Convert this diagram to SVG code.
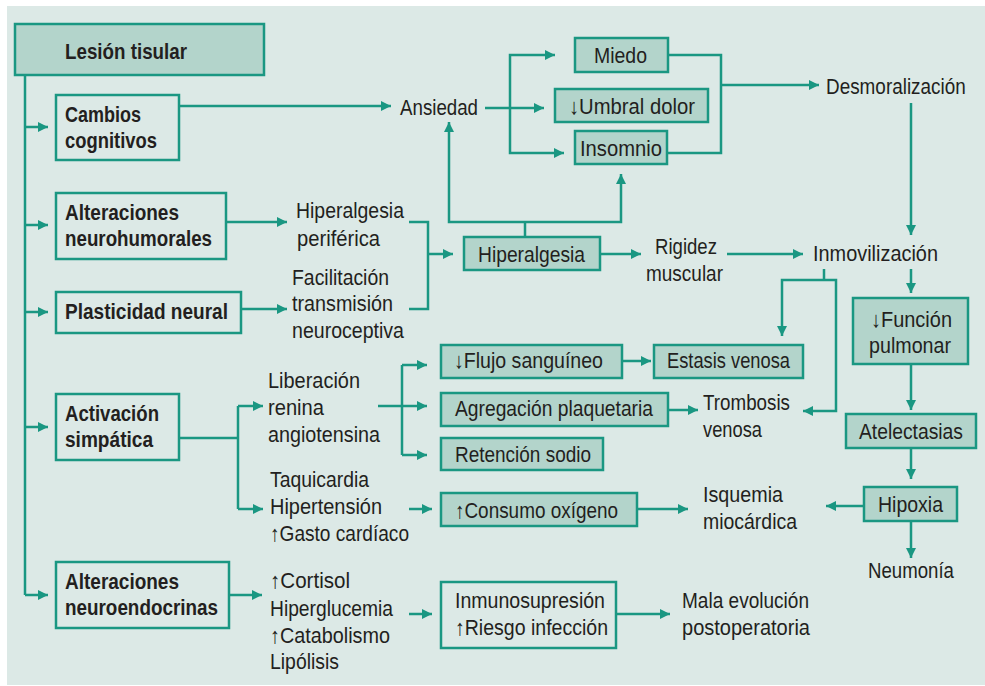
<svg xmlns="http://www.w3.org/2000/svg" width="985" height="686" viewBox="0 0 985 686">
<defs>
<marker id="ah" markerUnits="userSpaceOnUse" markerWidth="12" markerHeight="12" refX="10" refY="5" orient="auto">
<path d="M0,0 L10,5 L0,10 z" fill="#1a9782"/>
</marker>
<style>
.bg{fill:#dce9e6}
.bx{fill:#b3d4cb;stroke:#1a9782;stroke-width:2.5}
.bo{fill:#dce9e6;stroke:#1a9782;stroke-width:2.5}
.c path{fill:none;stroke:#1a9782;stroke-width:2.5}
.a{marker-end:url(#ah)}
text{font-family:"Liberation Sans","DejaVu Sans",sans-serif;font-size:22px;fill:#231f20}
.b{font-weight:bold}
</style>
</defs>
<rect x="0" y="0" width="985" height="686" fill="#ffffff"/>
<rect class="bg" x="7" y="6" width="978" height="679"/>

<g class="c" id="connectors">
<path d="M25,75 V595"/>
<path class="a" d="M25,127 H48"/>
<path class="a" d="M25,225 H48"/>
<path class="a" d="M25,312 H48"/>
<path class="a" d="M25,427 H48"/>
<path class="a" d="M25,595 H48"/>
<path class="a" d="M179,106 H391"/>
<path class="a" d="M226,222 H287"/>
<path class="a" d="M241,309 H287"/>
<path d="M409,222 H428 V309 H409"/>
<path class="a" d="M428,254 H453"/>
<path class="a" d="M600,254 H641"/>
<path d="M525,237 V222"/>
<path class="a" d="M525,222 H449 V122"/>
<path class="a" d="M525,222 H621 V174"/>
<path class="a" d="M485,108 H544"/>
<path class="a" d="M510,108 V55 H555"/>
<path class="a" d="M510,108 V153 H564"/>
<path d="M668,55 H721 V153 H667"/>
<path class="a" d="M721,85 H819"/>
<path class="a" d="M911,103 V235"/>
<path class="a" d="M727,254 H803"/>
<path class="a" d="M911,269 V293"/>
<path d="M824,269 V280"/>
<path class="a" d="M824,280 H782 V336"/>
<path class="a" d="M824,280 H836 V411 H803"/>
<path class="a" d="M911,364 V410"/>
<path class="a" d="M911,448 V479"/>
<path class="a" d="M911,521 V558"/>
<path class="a" d="M864,506 H826"/>
<path class="a" d="M622,361 H651"/>
<path class="a" d="M668,410 H698"/>
<path class="a" d="M378,406 H427"/>
<path d="M402,365 V455"/>
<path class="a" d="M402,365 H427"/>
<path class="a" d="M402,455 H427"/>
<path d="M179,438 H238"/>
<path d="M238,406 V509"/>
<path class="a" d="M238,406 H263"/>
<path class="a" d="M238,509 H263"/>
<path class="a" d="M409,509 H432"/>
<path class="a" d="M637,509 H688"/>
<path class="a" d="M229,595 H262"/>
<path class="a" d="M409,614 H432"/>
<path class="a" d="M616,614 H670"/>
</g>

<g id="lesion"><rect class="bx" x="15" y="24" width="249" height="51"/><text class="b" x="65" y="59" textLength="122" lengthAdjust="spacingAndGlyphs">Lesión tisular</text></g>
<g id="cambios"><rect class="bo" x="56" y="95" width="123" height="65"/><text class="b" x="65" y="122" textLength="76" lengthAdjust="spacingAndGlyphs">Cambios</text><text class="b" x="65" y="148" textLength="92" lengthAdjust="spacingAndGlyphs">cognitivos</text></g>
<g id="neurohumorales"><rect class="bo" x="56" y="193" width="170" height="66"/><text class="b" x="65" y="220" textLength="114" lengthAdjust="spacingAndGlyphs">Alteraciones</text><text class="b" x="65" y="246" textLength="147" lengthAdjust="spacingAndGlyphs">neurohumorales</text></g>
<g id="plasticidad"><rect class="bo" x="56" y="292" width="185" height="41"/><text class="b" x="65" y="319" textLength="163" lengthAdjust="spacingAndGlyphs">Plasticidad neural</text></g>
<g id="activacion"><rect class="bo" x="56" y="394" width="123" height="66"/><text class="b" x="65" y="421" textLength="94" lengthAdjust="spacingAndGlyphs">Activación</text><text class="b" x="65" y="447" textLength="88" lengthAdjust="spacingAndGlyphs">simpática</text></g>
<g id="neuroendocrinas"><rect class="bo" x="56" y="562" width="173" height="66"/><text class="b" x="65" y="589" textLength="114" lengthAdjust="spacingAndGlyphs">Alteraciones</text><text class="b" x="65" y="615" textLength="153" lengthAdjust="spacingAndGlyphs">neuroendocrinas</text></g>

<g id="ansiedad"><text x="400" y="115" textLength="78" lengthAdjust="spacingAndGlyphs">Ansiedad</text></g>
<g id="miedo"><rect class="bx" x="575" y="38" width="93" height="34"/><text x="594" y="63" textLength="53" lengthAdjust="spacingAndGlyphs">Miedo</text></g>
<g id="umbral"><rect class="bx" x="555" y="89" width="153" height="33"/><text x="569" y="114" textLength="126" lengthAdjust="spacingAndGlyphs">↓Umbral dolor</text></g>
<g id="insomnio"><rect class="bx" x="575" y="131" width="92" height="33"/><text x="580" y="156" textLength="82" lengthAdjust="spacingAndGlyphs">Insomnio</text></g>
<g id="desmoralizacion"><text transform="translate(826,94) scale(0.86,1)" x="0" y="0">Desmoralización</text></g>

<g id="hiperalgesia-periferica"><text x="296" y="218" textLength="108" lengthAdjust="spacingAndGlyphs">Hiperalgesia</text><text x="297" y="246" textLength="83" lengthAdjust="spacingAndGlyphs">periférica</text></g>
<g id="facilitacion"><text x="292" y="285" textLength="97" lengthAdjust="spacingAndGlyphs">Facilitación</text><text x="292" y="311" textLength="101" lengthAdjust="spacingAndGlyphs">transmisión</text><text x="292" y="338" textLength="112" lengthAdjust="spacingAndGlyphs">neuroceptiva</text></g>
<g id="hiperalgesia"><rect class="bx" x="464" y="237" width="136" height="33"/><text x="478" y="262" textLength="107" lengthAdjust="spacingAndGlyphs">Hiperalgesia</text></g>
<g id="rigidez"><text x="655" y="254" textLength="62" lengthAdjust="spacingAndGlyphs">Rigidez</text><text x="646" y="281" textLength="77" lengthAdjust="spacingAndGlyphs">muscular</text></g>
<g id="inmovilizacion"><text x="813" y="261" textLength="125" lengthAdjust="spacingAndGlyphs">Inmovilización</text></g>
<g id="funcion"><rect class="bx" x="853" y="298" width="115" height="66"/><text x="871" y="327" textLength="81" lengthAdjust="spacingAndGlyphs">↓Función</text><text x="869" y="353" textLength="82" lengthAdjust="spacingAndGlyphs">pulmonar</text></g>
<g id="atelectasias"><rect class="bx" x="846" y="414" width="130" height="34"/><text x="859" y="439" textLength="104" lengthAdjust="spacingAndGlyphs">Atelectasias</text></g>
<g id="hipoxia"><rect class="bx" x="864" y="487" width="93" height="34"/><text x="878" y="512" textLength="65" lengthAdjust="spacingAndGlyphs">Hipoxia</text></g>
<g id="neumonia"><text x="868" y="578" textLength="86" lengthAdjust="spacingAndGlyphs">Neumonía</text></g>

<g id="flujo"><rect class="bx" x="441" y="345" width="181" height="33"/><text x="454" y="368" textLength="149" lengthAdjust="spacingAndGlyphs">↓Flujo sanguíneo</text></g>
<g id="estasis"><rect class="bx" x="654" y="345" width="149" height="33"/><text x="667" y="368" textLength="123" lengthAdjust="spacingAndGlyphs">Estasis venosa</text></g>
<g id="agregacion"><rect class="bx" x="441" y="393" width="227" height="33"/><text x="455" y="416" textLength="198" lengthAdjust="spacingAndGlyphs">Agregación plaquetaria</text></g>
<g id="trombosis"><text x="703" y="410" textLength="87" lengthAdjust="spacingAndGlyphs">Trombosis</text><text x="703" y="437" textLength="59" lengthAdjust="spacingAndGlyphs">venosa</text></g>
<g id="retencion"><rect class="bx" x="441" y="438" width="162" height="32"/><text x="455" y="462" textLength="136" lengthAdjust="spacingAndGlyphs">Retención sodio</text></g>
<g id="liberacion"><text x="268" y="388" textLength="92" lengthAdjust="spacingAndGlyphs">Liberación</text><text x="268" y="415" textLength="56" lengthAdjust="spacingAndGlyphs">renina</text><text x="268" y="442" textLength="112" lengthAdjust="spacingAndGlyphs">angiotensina</text></g>
<g id="taquicardia"><text x="270" y="487" textLength="99" lengthAdjust="spacingAndGlyphs">Taquicardia</text><text x="270" y="514" textLength="112" lengthAdjust="spacingAndGlyphs">Hipertensión</text><text x="270" y="541" textLength="139" lengthAdjust="spacingAndGlyphs">↑Gasto cardíaco</text></g>
<g id="consumo"><rect class="bx" x="441" y="493" width="196" height="33"/><text x="455" y="518" textLength="163" lengthAdjust="spacingAndGlyphs">↑Consumo oxígeno</text></g>
<g id="isquemia"><text x="703" y="502" textLength="80" lengthAdjust="spacingAndGlyphs">Isquemia</text><text x="703" y="529" textLength="94" lengthAdjust="spacingAndGlyphs">miocárdica</text></g>
<g id="cortisol"><text x="270" y="588" textLength="80" lengthAdjust="spacingAndGlyphs">↑Cortisol</text><text x="270" y="616" textLength="123" lengthAdjust="spacingAndGlyphs">Hiperglucemia</text><text x="270" y="643" textLength="120" lengthAdjust="spacingAndGlyphs">↑Catabolismo</text><text x="270" y="669" textLength="69" lengthAdjust="spacingAndGlyphs">Lipólisis</text></g>
<g id="inmuno"><rect class="bo" x="441" y="582" width="175" height="66"/><text x="455" y="608" textLength="150" lengthAdjust="spacingAndGlyphs">Inmunosupresión</text><text x="455" y="635" textLength="153" lengthAdjust="spacingAndGlyphs">↑Riesgo infección</text></g>
<g id="mala"><text x="682" y="608" textLength="127" lengthAdjust="spacingAndGlyphs">Mala evolución</text><text x="682" y="635" textLength="128" lengthAdjust="spacingAndGlyphs">postoperatoria</text></g>
</svg>
